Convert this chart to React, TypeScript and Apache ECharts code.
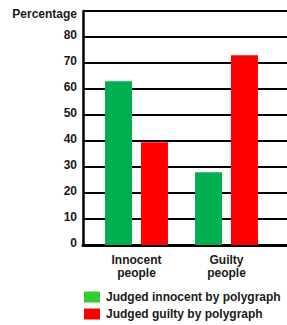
import React, { useEffect, useRef } from "react";
import * as echarts from "echarts";

const categories = ["Innocent\npeople", "Guilty\npeople"];
const seriesNames = ["Judged innocent by polygraph", "Judged guilty by polygraph"];
const innocentVerdict = [63, 28];
const guiltyVerdict = [39.5, 73];
const yTicks = [0, 10, 20, 30, 40, 50, 60, 70, 80, 90];
const topLabel = "Percentage";

const FONT = "'Liberation Sans', Arial, sans-serif";
const TXT = "#1a1a1a";

export default function App() {
  const ref = useRef<HTMLDivElement>(null);
  useEffect(() => {
    if (!ref.current) return;
    const chart = echarts.init(ref.current, null, { renderer: "svg" });
    const yMax = yTicks[yTicks.length - 1];
    chart.setOption({
      animation: false,
      textStyle: { fontFamily: FONT },
      grid: [
        { left: 91.5, width: 180, top: 11, bottom: 80 },
        { left: 83, right: 0, top: 11, bottom: 80 },
      ],
      xAxis: [
        {
          type: "category",
          gridIndex: 0,
          data: categories,
          axisLine: { show: false },
          axisTick: { show: false },
          axisLabel: {
            color: TXT,
            fontSize: 12,
            fontWeight: "bold",
            fontFamily: FONT,
            lineHeight: 13,
            margin: 8,
          },
        },
        {
          type: "value",
          gridIndex: 1,
          min: 0,
          max: 1,
          axisLine: { show: true, lineStyle: { color: "#000", width: 3 } },
          axisTick: { show: false },
          axisLabel: { show: false },
          splitLine: { show: false },
        },
      ],
      yAxis: [
        {
          type: "value",
          gridIndex: 0,
          min: 0,
          max: yMax,
          interval: 10,
          show: false,
        },
        {
          type: "value",
          gridIndex: 1,
          min: 0,
          max: yMax,
          interval: 10,
          axisLine: { show: true, lineStyle: { color: "#000", width: 2.5 } },
          axisTick: { show: false },
          splitLine: { show: true, lineStyle: { color: "#000", width: 2 } },
          axisLabel: {
            color: TXT,
            fontSize: 12,
            fontWeight: "bold",
            fontFamily: FONT,
            margin: 6,
            formatter: (v: number) =>
              v === yMax ? "{p|" + topLabel + "}" : "{a|" + v + "}",
            rich: {
              p: { fontSize: 12, fontWeight: "bold", fontFamily: FONT, color: TXT, padding: [6, 0, 0, 0] },
              a: { fontSize: 12, fontWeight: "bold", fontFamily: FONT, color: TXT, padding: [0, 0, 4, 0] },
            },
          },
        },
      ],
      legend: {
        orient: "vertical",
        left: 84,
        top: 291,
        padding: 0,
        height: 34,
        itemWidth: 16,
        itemHeight: 11,
        itemGap: 5,
        icon: "rect",
        textStyle: { color: TXT, fontSize: 12, fontWeight: "bold", fontFamily: FONT, padding: [0, 0, 0, 1] },
        data: [
          { name: seriesNames[0], itemStyle: { color: "#33cc33" } },
          { name: seriesNames[1], itemStyle: { color: "#ff0000" } },
        ],
      },
      series: [
        {
          name: seriesNames[0],
          type: "bar",
          xAxisIndex: 0,
          yAxisIndex: 0,
          data: innocentVerdict,
          barWidth: 27,
          barGap: "33%",
          itemStyle: { color: "#00b050" },
          z: 5,
        },
        {
          name: seriesNames[1],
          type: "bar",
          xAxisIndex: 0,
          yAxisIndex: 0,
          data: guiltyVerdict,
          barWidth: 27,
          barGap: "33%",
          itemStyle: { color: "#ff0000" },
          z: 5,
        },
      ],
    });
    return () => chart.dispose();
  }, []);
  return (
    <div
      ref={ref}
      style={{ position: "fixed", left: 0, top: 0, width: 287, height: 325, background: "#fff" }}
    />
  );
}
